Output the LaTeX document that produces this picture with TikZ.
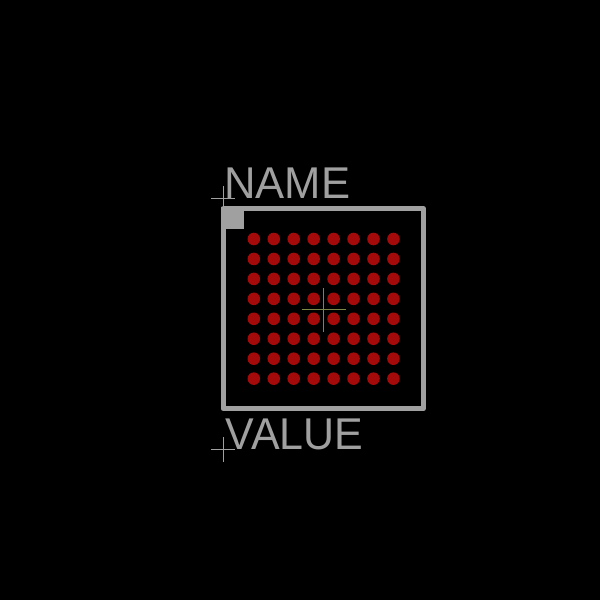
\documentclass[tikz,border=0pt]{standalone}
\usepackage{fontspec}
\setmainfont{Liberation Sans}
\definecolor{silk}{RGB}{160,160,160}
\definecolor{pad}{RGB}{165,10,10}
\definecolor{crossc}{RGB}{125,135,70}
\tikzset{
  outline/.style={draw=silk,line width=5pt,line join=round},
  corner/.style={fill=silk},
  padc/.style={fill=pad},
  crossthin/.style={draw=silk,line width=0.9pt},
  crosscentre/.style={draw=crossc,line width=0.9pt},
  lbl/.style={text=silk,font=\fontsize{44.5}{44.5}\selectfont,inner sep=0pt,anchor=base west}
}
\begin{document}
\begin{tikzpicture}[x=1pt,y=-1pt]
\useasboundingbox[fill=black] (0,0) rectangle (600,600);
\draw[outline] (223,208.7) rectangle (423.5,408.7);
\fill[corner] (221,207) rectangle (244,229);
\foreach \i in {0,...,7}{
  \foreach \j in {0,...,7}{
    \fill[padc] ({253.8+19.95*\i},{239+19.95*\j}) circle (6.3pt);
  }
}
\coordinate (cc) at (323.5,309.5);
\draw[crosscentre] ([xshift=-22pt]cc) -- ([xshift=22pt]cc);
\draw[crosscentre] ([yshift=-22pt]cc) -- ([yshift=22pt]cc);
\coordinate (nc) at (223,198.7);
\draw[crossthin] ([xshift=-12pt]nc) -- ([xshift=12pt]nc);
\draw[crossthin] ([yshift=-12.5pt]nc) -- ([yshift=12.5pt]nc);
\coordinate (vc) at (223,449.5);
\draw[crossthin] ([xshift=-12pt]vc) -- ([xshift=12pt]vc);
\draw[crossthin] ([yshift=-12.5pt]vc) -- ([yshift=12.5pt]vc);
\node[lbl,xscale=0.98] (name) at (224,198.5) {NAME};
\node[lbl,xscale=0.965] (value) at (225.5,449.5) {VALUE};
\end{tikzpicture}
\end{document}
